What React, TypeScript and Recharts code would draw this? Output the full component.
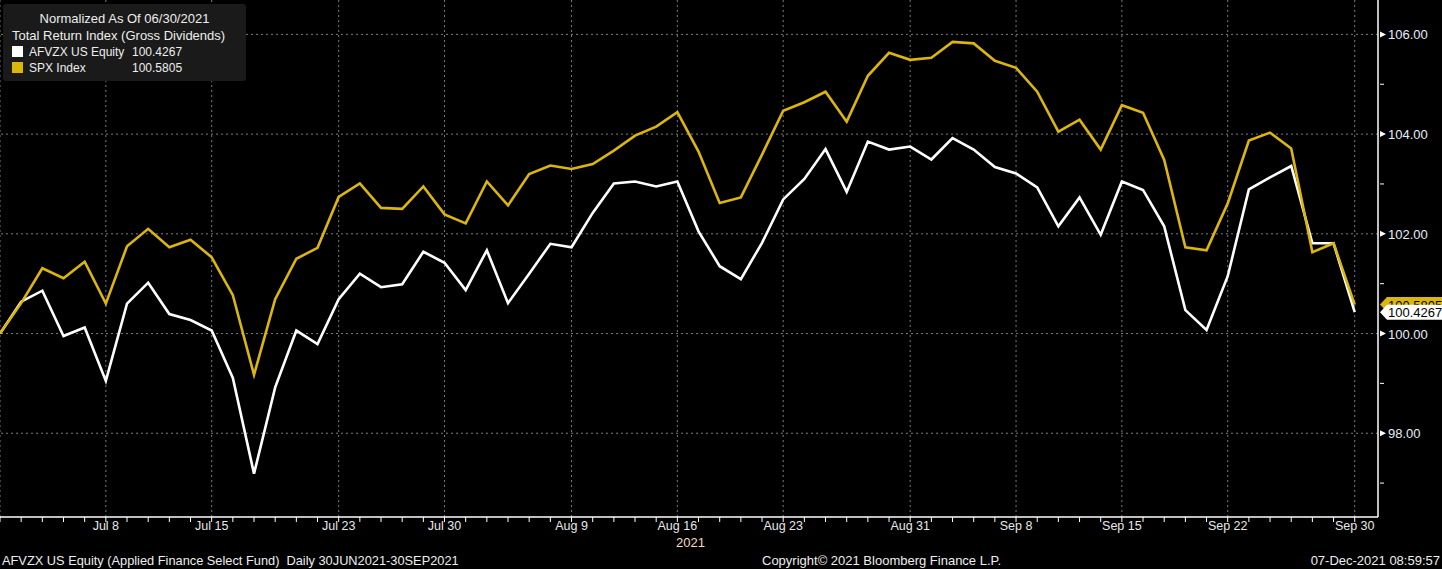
import { Line, LineChart, ReferenceLine, XAxis, YAxis } from "recharts";

// trading days 30 Jun - 30 Sep 2021
const dates = [
  "Jun 30",
  "Jul 1", "Jul 2", "Jul 6", "Jul 7", "Jul 8", "Jul 9", "Jul 12", "Jul 13", "Jul 14", "Jul 15", "Jul 16",
  "Jul 19", "Jul 20", "Jul 21", "Jul 22", "Jul 23", "Jul 26", "Jul 27", "Jul 28", "Jul 29", "Jul 30",
  "Aug 2", "Aug 3", "Aug 4", "Aug 5", "Aug 6", "Aug 9", "Aug 10", "Aug 11", "Aug 12", "Aug 13",
  "Aug 16", "Aug 17", "Aug 18", "Aug 19", "Aug 20", "Aug 23", "Aug 24", "Aug 25", "Aug 26", "Aug 27",
  "Aug 30", "Aug 31",
  "Sep 1", "Sep 2", "Sep 3", "Sep 7", "Sep 8", "Sep 9", "Sep 10", "Sep 13", "Sep 14", "Sep 15",
  "Sep 16", "Sep 17", "Sep 20", "Sep 21", "Sep 22", "Sep 23", "Sep 24", "Sep 27", "Sep 28", "Sep 29", "Sep 30",
];

const afvzx = [
  100.0, 100.64, 100.86, 99.95, 100.12, 99.05, 100.6, 101.02, 100.39, 100.27, 100.06,
  99.11, 97.19, 98.92, 100.06, 99.79, 100.69, 101.2, 100.93, 100.99, 101.64, 101.42,
  100.87, 101.67, 100.61, 101.2, 101.8, 101.73, 102.42, 103.01, 103.05, 102.95,
  103.05, 102.05, 101.35, 101.09, 101.82, 102.69, 103.1, 103.7, 102.84, 103.85,
  103.69, 103.75, 103.49, 103.92, 103.69, 103.34, 103.21, 102.93, 102.15, 102.73,
  101.98, 103.05, 102.88, 102.15, 100.47, 100.07, 101.15, 102.89, 103.13, 103.36,
  101.81, 101.81, 100.43,
];

const spx = [
  100.0, 100.61, 101.31, 101.11, 101.44, 100.6, 101.75, 102.1, 101.73, 101.88, 101.53,
  100.77, 99.17, 100.69, 101.5, 101.72, 102.74, 103.01, 102.52, 102.5, 102.95, 102.39,
  102.21, 103.05, 102.57, 103.2, 103.37, 103.3, 103.4, 103.67, 103.97, 104.15,
  104.44, 103.65, 102.62, 102.73, 103.59, 104.47, 104.64, 104.85, 104.25, 105.17,
  105.63, 105.49, 105.53, 105.85, 105.82, 105.47, 105.33, 104.85, 104.05, 104.29,
  103.69, 104.58, 104.43, 103.48, 101.73, 101.67, 102.61, 103.87, 104.03, 103.71,
  101.63, 101.81, 100.58,
];

const xTickLabels = ["Jul 8", "Jul 15", "Jul 23", "Jul 30", "Aug 9", "Aug 16", "Aug 23", "Aug 31", "Sep 8", "Sep 15", "Sep 22", "Sep 30"];
const yTicks = [97, 98, 99, 100, 101, 102, 103, 104, 105, 106];
const yLabelTicks = [98, 100, 102, 104, 106];

const seriesNames = ["AFVZX US Equity", "SPX Index"];
const lastValues = [100.4267, 100.5805];

const FONT = "'Liberation Sans', Arial, sans-serif";
const GOLD = "#dcb60a";
const GRID = "#7c7c7c";

const data = dates.map((date, i) => ({ i, date, afvzx: afvzx[i], spx: spx[i] }));
const gridX = [0, ...dates.map((d, i) => (xTickLabels.includes(d) ? i : -1)).filter((i) => i >= 0)];

function XTick({ x, y, payload }: any) {
  const label = dates[payload.value];
  const major = xTickLabels.includes(label);
  return (
    <g>
      <line x1={x} x2={x} y1={y - 2} y2={y + 3} stroke="#ffffff" strokeWidth={1} />
      {major && (
        <text x={x} y={y + 11} textAnchor="middle" fill="#e8e8e8" fontSize={12.5} fontFamily={FONT}>
          {label}
        </text>
      )}
    </g>
  );
}

function YTick({ x, y, payload }: any) {
  const v = payload.value;
  if (!yLabelTicks.includes(v)) {
    return <line x1={x} x2={x + 4} y1={y} y2={y} stroke="#ffffff" strokeWidth={1} />;
  }
  return (
    <g>
      <path d={`M${x},${y - 3} L${x + 6},${y} L${x},${y + 3} Z`} fill="#ffffff" />
      <text x={x + 8} y={y + 5} fill="#e6eefa" fontSize={13} fontFamily={FONT}>
        {v.toFixed(2)}
      </text>
    </g>
  );
}

function ValueTag({ viewBox, value, fill }: any) {
  if (!viewBox) return null;
  const x = viewBox.x + viewBox.width + 2;
  const y = viewBox.y;
  return (
    <g>
      <path d={`M${x},${y} L${x + 7},${y - 7.5} L${x + 70},${y - 7.5} L${x + 70},${y + 7.5} L${x + 7},${y + 7.5} Z`} fill={fill} />
      <text x={x + 8} y={y + 5} fill="#000000" fontSize={13} fontFamily={FONT}>
        {value.toFixed(4)}
      </text>
    </g>
  );
}

export default function App() {
  const textStyle = { position: "absolute" as const, fontFamily: FONT, fontSize: 13, color: "#eeeeee", whiteSpace: "pre" as const, lineHeight: "16px" };
  const rowStyle = { ...textStyle, fontSize: 12 };
  return (
    <div style={{ position: "fixed", left: 0, top: 0, width: 1442, height: 569, background: "#000000", overflow: "hidden" }}>
      <LineChart width={1442} height={569} data={data} margin={{ top: 0, right: 0, bottom: 0, left: 0 }}>
        {yLabelTicks.map((v) => (
          <ReferenceLine key={`h${v}`} y={v} stroke={GRID} strokeDasharray="2 3" />
        ))}
        {gridX.map((i) => (
          <ReferenceLine key={`v${i}`} x={i} stroke={GRID} strokeDasharray="2 3" />
        ))}
        <XAxis
          dataKey="i"
          type="number"
          domain={[0, 65.1]}
          allowDataOverflow
          ticks={dates.map((_, i) => i)}
          interval={0}
          tick={<XTick />}
          tickLine={false}
          tickSize={0}
          axisLine={{ stroke: "#ffffff", strokeWidth: 1.5 }}
          height={52}
        />
        <YAxis
          orientation="right"
          type="number"
          domain={[96.32, 106.69]}
          allowDataOverflow
          ticks={yTicks}
          interval={0}
          tick={<YTick />}
          tickLine={false}
          tickSize={0}
          axisLine={{ stroke: "#ffffff", strokeWidth: 1.5 }}
          width={64}
        />
        <Line type="linear" dataKey="afvzx" stroke="#ffffff" strokeWidth={2.6} dot={false} activeDot={false} isAnimationActive={false} />
        <Line type="linear" dataKey="spx" stroke={GOLD} strokeWidth={2.6} dot={false} activeDot={false} isAnimationActive={false} />
        <ReferenceLine y={lastValues[1]} stroke="none" label={(p: any) => <ValueTag viewBox={p.viewBox} value={lastValues[1]} fill={GOLD} />} />
        <ReferenceLine y={lastValues[0]} stroke="none" label={(p: any) => <ValueTag viewBox={p.viewBox} value={lastValues[0]} fill="#ffffff" />} />
      </LineChart>

      <div style={{ position: "absolute", left: 3, top: 4, width: 243, height: 77, background: "#1a1a1a", borderRadius: 3 }}>
        <div style={{ ...textStyle, left: 0, width: 243, top: 7, textAlign: "center" }}>Normalized As Of 06/30/2021</div>
        <div style={{ ...textStyle, left: 9, top: 24 }}>Total Return Index (Gross Dividends)</div>
        <div style={{ position: "absolute", left: 9, top: 42, width: 11, height: 11, background: "#ffffff" }} />
        <div style={{ ...rowStyle, left: 26, top: 40 }}>{seriesNames[0]}</div>
        <div style={{ ...rowStyle, left: 129, top: 40 }}>{lastValues[0].toFixed(4)}</div>
        <div style={{ position: "absolute", left: 9, top: 58, width: 11, height: 11, background: GOLD }} />
        <div style={{ ...rowStyle, left: 26, top: 56 }}>{seriesNames[1]}</div>
        <div style={{ ...rowStyle, left: 129, top: 56 }}>{lastValues[1].toFixed(4)}</div>
      </div>

      <div style={{ ...textStyle, left: 676, top: 535, color: "#f2dcc0" }}>2021</div>
      <div style={{ ...textStyle, left: 2, top: 553, fontSize: 12.8 }}>AFVZX US Equity (Applied Finance Select Fund)  Daily 30JUN2021-30SEP2021</div>
      <div style={{ ...textStyle, left: 762, top: 553 }}>Copyright© 2021 Bloomberg Finance L.P.</div>
      <div style={{ ...textStyle, right: 2, top: 553 }}>07-Dec-2021 08:59:57</div>
    </div>
  );
}
